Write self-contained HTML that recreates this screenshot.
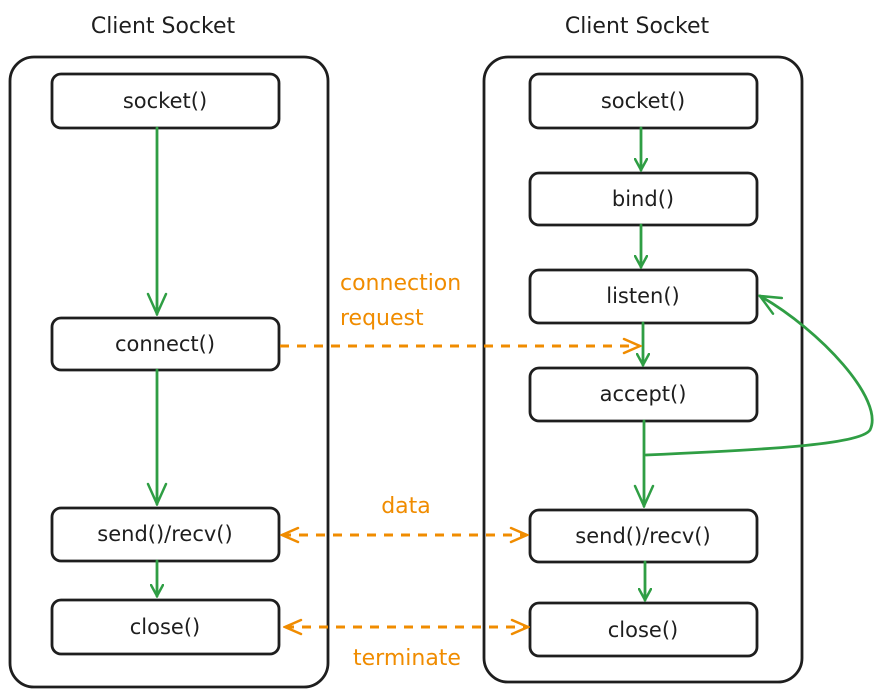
<!DOCTYPE html>
<html><head><meta charset="utf-8"><style>
html,body{margin:0;padding:0;background:#fff;}
svg text{font-family:"DejaVu Sans","Liberation Sans",sans-serif;}
</style></head><body>
<svg width="882" height="695" viewBox="0 0 882 695" xmlns="http://www.w3.org/2000/svg">
<defs>
<marker id="g" markerWidth="14" markerHeight="14" refX="12" refY="7" orient="auto" markerUnits="userSpaceOnUse">
<path d="M1,1 L12,7 L1,13" fill="none" stroke="#2f9e44" stroke-width="2.5" stroke-linecap="round"/></marker>
<marker id="o" markerWidth="20" markerHeight="20" refX="18" refY="10" orient="auto-start-reverse" markerUnits="userSpaceOnUse">
<path d="M2,3 L18,10 L2,17" fill="none" stroke="#f08c00" stroke-width="2.5" stroke-linecap="round"/></marker>
<marker id="g2" markerWidth="24" markerHeight="24" refX="22" refY="12" orient="auto" markerUnits="userSpaceOnUse">
<path d="M2,3 L22,12 L2,21" fill="none" stroke="#2f9e44" stroke-width="2.5" stroke-linecap="round"/></marker>
</defs>
<g fill="#1e1e1e" font-size="22" text-anchor="middle">
<text x="163" y="33">Client Socket</text>
<text x="637" y="33">Client Socket</text>
</g>
<g fill="none" stroke="#1e1e1e" stroke-width="2.8">
<rect x="10" y="57" width="318" height="630" rx="24"/>
<rect x="484" y="57" width="318" height="625" rx="24"/>
<rect x="52" y="74" width="227" height="54" rx="9"/>
<rect x="52" y="318" width="227" height="52" rx="9"/>
<rect x="52" y="508" width="227" height="53" rx="9"/>
<rect x="52" y="600" width="227" height="54" rx="9"/>
<rect x="530" y="74" width="227" height="54" rx="9"/>
<rect x="530" y="173" width="227" height="52" rx="9"/>
<rect x="530" y="270" width="227" height="53" rx="9"/>
<rect x="530" y="368" width="227" height="53" rx="9"/>
<rect x="530" y="510" width="227" height="52" rx="9"/>
<rect x="530" y="603" width="227" height="53" rx="9"/>
</g>
<g fill="#1e1e1e" font-size="21" text-anchor="middle">
<text x="165" y="108">socket()</text>
<text x="165" y="351">connect()</text>
<text x="165" y="541">send()/recv()</text>
<text x="165" y="634">close()</text>
<text x="643" y="108">socket()</text>
<text x="643" y="206">bind()</text>
<text x="643" y="303">listen()</text>
<text x="643" y="401">accept()</text>
<text x="643" y="543">send()/recv()</text>
<text x="643" y="637">close()</text>
</g>
<g stroke="#2f9e44" stroke-width="2.8" fill="none" stroke-linecap="round">
<line x1="157" y1="128" x2="157" y2="314" marker-end="url(#g2)"/>
<line x1="157" y1="370" x2="157" y2="504" marker-end="url(#g2)"/>
<line x1="157" y1="561" x2="157" y2="596" marker-end="url(#g)"/>
<line x1="641" y1="128" x2="641" y2="170" marker-end="url(#g)"/>
<line x1="641" y1="225" x2="641" y2="267" marker-end="url(#g)"/>
<line x1="643" y1="323" x2="643" y2="365" marker-end="url(#g)"/>
<line x1="644" y1="421" x2="644" y2="506" marker-end="url(#g2)"/>
<line x1="645" y1="562" x2="645" y2="600" marker-end="url(#g)"/>
<path d="M646,455 C760,450 860,445 870,430 C885,400 820,330 760,296" marker-end="url(#g2)"/>
</g>
<g stroke="#f08c00" stroke-width="3" fill="none" stroke-dasharray="9 8">
<line x1="280" y1="346" x2="640" y2="346" marker-end="url(#o)"/>
<line x1="282" y1="535" x2="527" y2="535" marker-start="url(#o)" marker-end="url(#o)"/>
<line x1="285" y1="627" x2="528" y2="627" marker-start="url(#o)" marker-end="url(#o)"/>
</g>
<g fill="#f08c00" font-size="22">
<text x="340" y="290">connection</text>
<text x="340" y="325">request</text>
<text x="406" y="513" text-anchor="middle">data</text>
<text x="407" y="665" text-anchor="middle">terminate</text>
</g>
</svg>
</body></html>
